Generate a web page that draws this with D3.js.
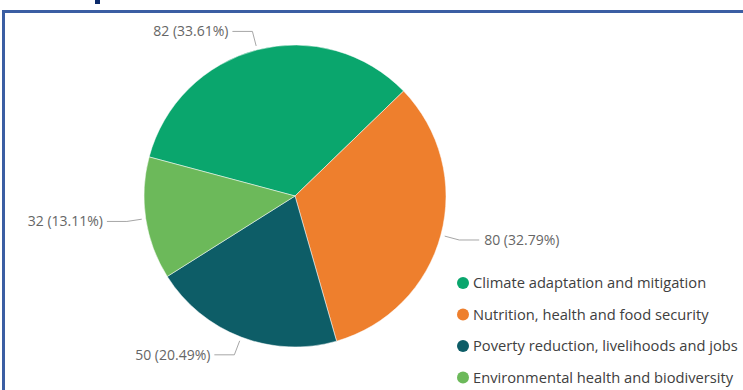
<!DOCTYPE html>
<html>
<head>
<meta charset="utf-8">
<script src="https://cdn.jsdelivr.net/npm/d3@7"></script>
<style>
    html, body { margin: 0; padding: 0; background: #fff; }
    svg { display: block; font-family: "Open Sans", "Noto Sans", sans-serif; }
</style>
</head>
<body>
<div id="chart"></div>
<script>
// Data
const categories = [
    'Climate adaptation and mitigation',
    'Nutrition, health and food security',
    'Poverty reduction, livelihoods and jobs',
    'Environmental health and biodiversity'
];
const values = [82, 80, 50, 32];
const sliceColors = ['#0aa66d', '#ee7f2d', '#0d5d67', '#6cb95a'];

const width = 743, height = 390;
const cx = 295, cy = 196, radius = 151;
const startDeg = -75;

const svg = d3.select('#chart').append('svg')
    .attr('width', width)
    .attr('height', height);

// Frame around the visual (top + left edge visible)
svg.append('path')
    .attr('d', `M3.5,${height} L3.5,11.5 L${width},11.5`)
    .attr('fill', 'none')
    .attr('stroke', '#3b5ea3')
    .attr('stroke-width', 3);

// Cut-off title glyph peeking in at the top
svg.append('rect')
    .attr('x', 95).attr('y', 0)
    .attr('width', 5).attr('height', 4)
    .attr('fill', '#0c2a6a');

const total = d3.sum(values);
const rows = categories.map((c, i) => ({ name: c, value: values[i], color: sliceColors[i] }));

const pie = d3.pie()
    .sort(null)
    .value(d => d.value)
    .startAngle(startDeg * Math.PI / 180)
    .endAngle(startDeg * Math.PI / 180 + 2 * Math.PI);

const arcs = pie(rows);
const arc = d3.arc().innerRadius(0).outerRadius(radius);

const g = svg.append('g').attr('transform', `translate(${cx},${cy})`);

g.selectAll('path.slice')
    .data(arcs)
    .enter().append('path')
    .attr('class', 'slice')
    .attr('d', arc)
    .attr('fill', d => d.data.color)
    .attr('stroke', '#fff')
    .attr('stroke-width', 0.5);

// Leader lines + labels
const polar = (r, a) => [r * Math.sin(a), -r * Math.cos(a)];
const fmt = d3.format('.2f');

arcs.forEach(d => {
    const mid = (d.startAngle + d.endAngle) / 2;
    const p1 = polar(radius + 4, mid);
    const p2 = polar(radius + 19, mid);
    const right = Math.sin(mid) > 0;
    const p3 = [p2[0] + (right ? 20 : -20), p2[1]];

    g.append('polyline')
        .attr('points', [p1, p2, p3].map(p => p.join(',')).join(' '))
        .attr('fill', 'none')
        .attr('stroke', '#a6a6a6')
        .attr('stroke-width', 1);

    g.append('text')
        .attr('x', p3[0] + (right ? 5 : -4))
        .attr('y', p3[1])
        .attr('dy', '0.35em')
        .attr('text-anchor', right ? 'start' : 'end')
        .style('font-size', '14px')
        .style('fill', '#666')
        .text(`${d.data.value} (${fmt(d.data.value / total * 100)}%)`);
});

// Legend
const legend = svg.append('g').attr('transform', 'translate(463,283)');
const item = legend.selectAll('g')
    .data(rows)
    .enter().append('g')
    .attr('transform', (d, i) => `translate(0,${i * 31.5})`);

item.append('circle')
    .attr('r', 6)
    .attr('fill', d => d.color);

item.append('text')
    .attr('x', 10)
    .attr('dy', '0.35em')
    .style('font-size', '14.7px')
    .style('fill', '#404040')
    .text(d => d.name);
</script>
</body>
</html>
